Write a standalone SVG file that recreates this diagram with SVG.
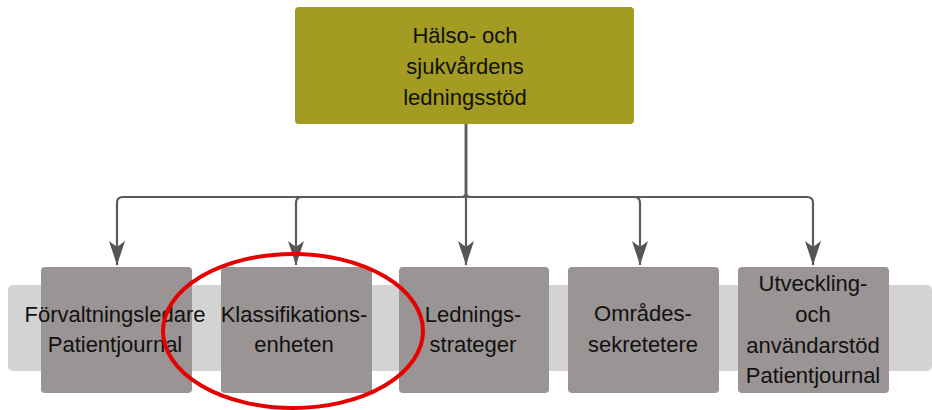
<svg xmlns="http://www.w3.org/2000/svg" width="932" height="410" viewBox="0 0 932 410">
<defs>
<marker id="arr" markerUnits="userSpaceOnUse" markerWidth="26" markerHeight="18" refX="24" refY="9" orient="auto" viewBox="0 0 26 18">
<path d="M24 9 L0 1 L6 9 L0 17 Z" fill="#555"/>
</marker>
<style>
.box{fill:#9a9494;}
.top{fill:#a39b22;}
.t{font-family:"Liberation Sans",Arial,sans-serif;font-size:22px;fill:#111;text-anchor:middle;}
.c{fill:none;stroke:#5a5a5a;stroke-width:2.2;}
</style>
</defs>
<rect x="8" y="285" width="924" height="86" rx="5" fill="#d3d3d3"/>
<g id="connectors">
<path class="c" d="M466 124 V193 Q466 197 462 197 H123 Q117 197 117 203 V265" marker-end="url(#arr)"/>
<path class="c" d="M466 124 V193 Q466 197 462 197 H302 Q296 197 296 203 V265" marker-end="url(#arr)"/>
<path class="c" d="M466 124 V265" marker-end="url(#arr)"/>
<path class="c" d="M466 124 V193 Q466 197 470 197 H634 Q640 197 640 203 V265" marker-end="url(#arr)"/>
<path class="c" d="M466 124 V193 Q466 197 470 197 H807 Q813 197 813 203 V265" marker-end="url(#arr)"/>
</g>
<g id="top">
<rect class="top" x="295" y="7" width="339" height="117" rx="4"/>
<text class="t" x="465" y="43">Hälso- och</text>
<text class="t" x="465" y="74">sjukvårdens</text>
<text class="t" x="465" y="105">ledningsstöd</text>
</g>
<g id="n1">
<rect class="box" x="41" y="267" width="151" height="126" rx="4"/>
<text class="t" x="115" y="322">Förvaltningsledare</text>
<text class="t" x="115" y="352">Patientjournal</text>
</g>
<g id="n2">
<rect class="box" x="221" y="267" width="151" height="126" rx="4"/>
<text class="t" x="294" y="322">Klassifikations-</text>
<text class="t" x="294" y="352">enheten</text>
</g>
<g id="n3">
<rect class="box" x="399" y="267" width="150" height="126" rx="4"/>
<text class="t" x="473" y="322">Lednings-</text>
<text class="t" x="473" y="352">strateger</text>
</g>
<g id="n4">
<rect class="box" x="568" y="267" width="151" height="126" rx="4"/>
<text class="t" x="643" y="321">Områdes-</text>
<text class="t" x="643" y="352">sekretetere</text>
</g>
<g id="n5">
<rect class="box" x="738" y="267" width="151" height="126" rx="4"/>
<text class="t" x="813" y="291">Utveckling-</text>
<text class="t" x="813" y="322">och</text>
<text class="t" x="813" y="353">användarstöd</text>
<text class="t" x="813" y="383">Patientjournal</text>
</g>
<ellipse cx="293" cy="331" rx="130" ry="77" fill="none" stroke="#e60000" stroke-width="4"/>
</svg>
